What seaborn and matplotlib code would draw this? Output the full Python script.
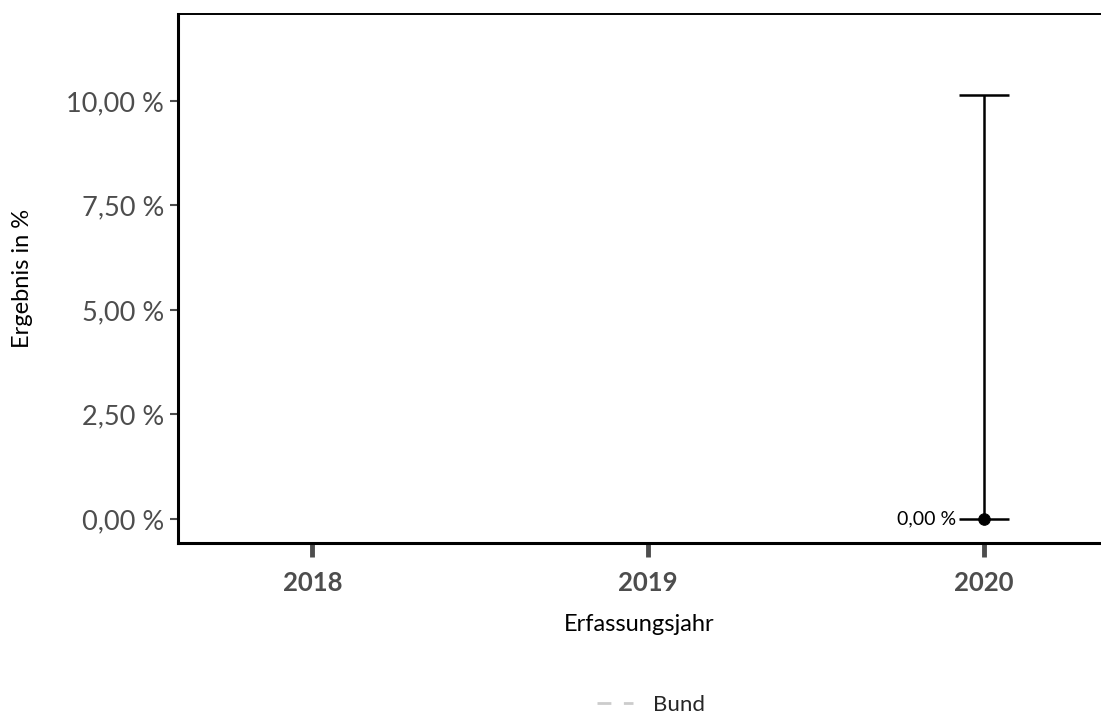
import matplotlib
matplotlib.use("Agg")
import matplotlib.pyplot as plt
import seaborn as sns
import pandas as pd
from matplotlib.lines import Line2D

years = [2018, 2019, 2020]
values = [None, None, 0.0]
ci_low = [None, None, 0.0]
ci_high = [None, None, 10.15]
yticks = [0, 2.5, 5, 7.5, 10]

sns.set_theme(style="white")
plt.rcParams['font.family'] = ['Lato', 'DejaVu Sans']

df = pd.DataFrame({"year": years, "value": values, "lo": ci_low, "hi": ci_high}).dropna()

fig = plt.figure(figsize=(11.01, 7.15), dpi=100)
ax = fig.add_axes([178/1101, 1-543/715, 1-178/1101, (543-14)/715])

for _, r in df.iterrows():
    ax.errorbar(r["year"], r["value"], yerr=[[r["value"]-r["lo"]], [r["hi"]-r["value"]]],
                fmt="none", ecolor="black", elinewidth=1.8, capsize=18, capthick=1.8, zorder=3)
    ax.annotate(f"{r['value']:.2f} %".replace(".", ","), (r["year"], r["value"]),
                xytext=(-19.5, 0), textcoords="offset points", ha="right", va="center",
                fontsize=14, color="black")
sns.scatterplot(data=df, x="year", y="value", color="black", s=70, ax=ax, zorder=4, edgecolor="black")

ax.set_xlim(2017.6, 2020.35)
ax.set_ylim(-0.574, 12.08)
ax.set_xticks(years)
ax.set_xticklabels([str(y) for y in years], fontweight="bold", fontsize=18.5, color="#4d4d4d")
ax.set_yticks(yticks)
ax.set_yticklabels([f"{t:.2f} %".replace(".", ",") for t in yticks], fontsize=19.5, color="#4d4d4d")
ax.tick_params(axis="x", length=10, width=3.5, color="#4d4d4d", pad=10, bottom=True)
ax.tick_params(axis="y", length=6, width=1.5, color="#4d4d4d", pad=4, left=True)
ax.set_xlabel("Erfassungsjahr", fontsize=17, labelpad=14, color="black")
ax.set_ylabel("Ergebnis in %", fontsize=17, labelpad=24, color="black")

for s in ["left", "bottom"]:
    ax.spines[s].set_linewidth(2.2)
    ax.spines[s].set_color("black")
ax.spines["top"].set_linewidth(1.4)
ax.spines["top"].set_color("black")
ax.spines["right"].set_visible(False)

handle = Line2D([0], [0], color="#cccccc", lw=2, ls=(0, (5, 4.5)))
fig.legend([handle], ["Bund"], loc="center", bbox_to_anchor=(651/1101, 1-705/715), frameon=False,
           fontsize=16, handlelength=1.6, handletextpad=0.9)

ax.set_facecolor("white")
fig.patch.set_facecolor("white")
fig.savefig("out.png", dpi=100)
